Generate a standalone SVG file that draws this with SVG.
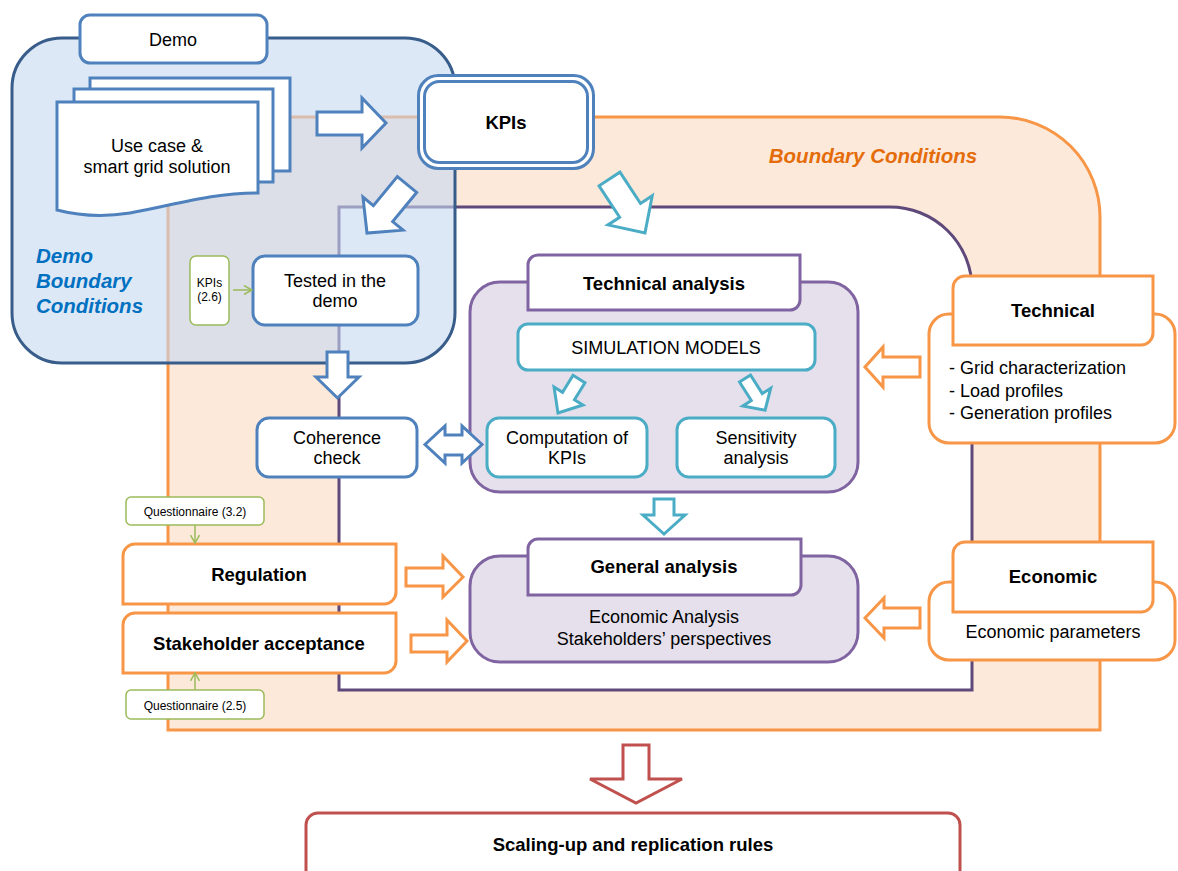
<svg xmlns="http://www.w3.org/2000/svg" width="1178" height="871" viewBox="0 0 1178 871">
<defs>
<style>
text{font-family:"Liberation Sans",Arial,Helvetica,sans-serif;fill:#000;text-anchor:middle;}
.t18{font-size:18px;}
.b18{font-size:18.5px;font-weight:bold;}
.s12{font-size:12px;}
.q{font-size:12px;}
.blue{fill:#fff;stroke:#4F81BD;stroke-width:3;}
.teal{fill:#fff;stroke:#4BACC6;stroke-width:3;}
.purp{fill:#fff;stroke:#8064A2;stroke-width:3;}
.purpbg{fill:#E5E0EC;stroke:#8064A2;stroke-width:3;}
.orng{fill:#fff;stroke:#F79646;stroke-width:3;}
.green{fill:#fff;stroke:#9BBB59;stroke-width:1.5;}
.red{fill:#fff;stroke:#C0504D;stroke-width:3;}
.gline{stroke:#9BBB59;stroke-width:1.5;fill:none;}
.dbc{font-size:20.5px;font-weight:bold;font-style:italic;fill:#0070C0;text-anchor:start;}
</style>
<marker id="chev" viewBox="0 0 10 10" refX="9" refY="5" markerWidth="10" markerHeight="10" markerUnits="userSpaceOnUse" orient="auto">
<path d="M1,0.5 L9,5 L1,9.5" fill="none" stroke="#9BBB59" stroke-width="1.5"/>
</marker>
</defs>

<g id="regions">
<path id="boundary-region" d="M168,730 L168,117 L1000,117 A100,100 0 0 1 1100,217 L1100,730 Z" fill="#FDE9D9" stroke="#F79646" stroke-width="3"/>
<path id="analysis-region" d="M339,690 L339,207 L890,207 A82,82 0 0 1 972,289 L972,690 Z" fill="#fff" stroke="#5F497A" stroke-width="3"/>
<rect id="demo-region" x="12" y="38" width="443" height="325" rx="50" fill="#C6D9F1" fill-opacity="0.6" stroke="#385D8A" stroke-width="3"/>
<text x="873" y="163" style="font-size:20.5px;font-weight:bold;font-style:italic;fill:#E46C0A;">Boundary Conditions</text>
<text class="dbc" x="36" y="263">Demo</text>
<text class="dbc" x="36" y="288">Boundary</text>
<text class="dbc" x="36" y="313">Conditions</text>
</g>

<g id="demo">
<rect class="blue" x="80" y="15" width="187" height="48" rx="10"/>
<text class="t18" x="173" y="46">Demo</text>
</g>

<g id="use-case">
<rect class="blue" x="90" y="78" width="200" height="93"/>
<rect class="blue" x="74" y="89" width="199" height="93"/>
<path class="blue" d="M57,102 H258 V193 C210,193 175,205 130,213 C105,217 80,216 57,210 Z"/>
<text class="t18" x="157" y="152">Use case &amp;</text>
<text class="t18" x="157" y="173">smart grid solution</text>
</g>

<g id="kpis">
<rect x="418.5" y="75.5" width="175" height="93" rx="20" fill="#fff" stroke="#4F81BD" stroke-width="3"/>
<rect x="424.5" y="81.5" width="163" height="81" rx="15" fill="#fff" stroke="#4F81BD" stroke-width="3"/>
<text class="b18" x="506" y="129">KPIs</text>
</g>

<g id="kpis-2-6">
<rect class="green" x="190" y="256" width="39" height="69" rx="6"/>
<text class="s12" x="209.5" y="287">KPIs</text>
<text class="s12" x="209.5" y="301">(2.6)</text>
</g>

<g id="tested">
<rect class="blue" x="253" y="256" width="165" height="69" rx="12"/>
<text class="t18" x="335" y="287">Tested in the</text>
<text class="t18" x="335" y="307">demo</text>
</g>

<g id="coherence">
<rect class="blue" x="257" y="418" width="160" height="59" rx="12"/>
<text class="t18" x="337" y="444">Coherence</text>
<text class="t18" x="337" y="464">check</text>
</g>

<g id="technical-analysis">
<rect class="purpbg" x="470" y="282" width="388" height="210" rx="30"/>
<path class="purp" d="M538,255 H800 V300 A10,10 0 0 1 790,310 H528 V265 A10,10 0 0 1 538,255 Z"/>
<text class="b18" x="664" y="290">Technical analysis</text>
</g>

<g id="simulation-models">
<rect class="teal" x="518" y="324" width="297" height="46" rx="10"/>
<text class="t18" x="666" y="354">SIMULATION MODELS</text>
</g>

<g id="computation">
<rect class="teal" x="487" y="418" width="160" height="59" rx="12"/>
<text class="t18" x="567" y="444">Computation of</text>
<text class="t18" x="567" y="464">KPIs</text>
</g>

<g id="sensitivity">
<rect class="teal" x="677" y="418" width="158" height="59" rx="12"/>
<text class="t18" x="756" y="444">Sensitivity</text>
<text class="t18" x="756" y="464">analysis</text>
</g>

<g id="general-analysis">
<rect class="purpbg" x="470" y="556" width="388" height="106" rx="30"/>
<path class="purp" d="M538,539 H801 V585 A10,10 0 0 1 791,595 H528 V549 A10,10 0 0 1 538,539 Z"/>
<text class="b18" x="664" y="573">General analysis</text>
<text class="t18" x="664" y="623">Economic Analysis</text>
<text class="t18" x="664" y="645">Stakeholders’ perspectives</text>
</g>

<g id="technical">
<rect class="orng" x="929" y="314" width="246" height="129" rx="20"/>
<path class="orng" d="M965,276 H1153 V333 A12,12 0 0 1 1141,345 H953 V288 A12,12 0 0 1 965,276 Z"/>
<text class="b18" x="1053" y="317">Technical</text>
<text class="t18" x="949" y="374" style="text-anchor:start">- Grid characterization</text>
<text class="t18" x="949" y="397" style="text-anchor:start">- Load profiles</text>
<text class="t18" x="949" y="419" style="text-anchor:start">- Generation profiles</text>
</g>

<g id="economic">
<rect class="orng" x="929" y="582" width="246" height="78" rx="20"/>
<path class="orng" d="M965,542 H1153 V600 A12,12 0 0 1 1141,612 H953 V554 A12,12 0 0 1 965,542 Z"/>
<text class="b18" x="1053" y="583">Economic</text>
<text class="t18" x="1053" y="638">Economic parameters</text>
</g>

<g id="questionnaire-3-2">
<rect class="green" x="126" y="497" width="138" height="28" rx="5"/>
<text class="q" x="195" y="516">Questionnaire (3.2)</text>
</g>

<g id="regulation">
<path class="orng" d="M135,544 H396 V592 A12,12 0 0 1 384,604 H123 V556 A12,12 0 0 1 135,544 Z"/>
<text class="b18" x="259" y="581">Regulation</text>
</g>

<g id="stakeholder-acceptance">
<path class="orng" d="M135,613 H396 V661 A12,12 0 0 1 384,673 H123 V625 A12,12 0 0 1 135,613 Z"/>
<text class="b18" x="259" y="650">Stakeholder acceptance</text>
</g>

<g id="questionnaire-2-5">
<rect class="green" x="126" y="690" width="138" height="29" rx="5"/>
<text class="q" x="195" y="710">Questionnaire (2.5)</text>
</g>

<g id="scaling">
<rect class="red" x="306" y="813" width="654" height="90" rx="12"/>
<text class="b18" x="633" y="851">Scaling-up and replication rules</text>
</g>

<g id="connectors">
<path class="blue" d="M317,112 H362 V98 L386,123 L362,148 V135 H317 Z"/>
<path class="blue" transform="translate(407,184.5) rotate(129.5)" d="M0,-12.5 H37.7 V-26 L62.9,0 L37.7,26 V12.5 H0 Z"/>
<path class="teal" transform="translate(609.5,179) rotate(56.7)" d="M0,-12.5 H37.5 V-26.5 L64.6,0 L37.5,26.5 V12.5 H0 Z"/>
<path class="blue" d="M327,352 H348 V377 H359 L337.5,398 L316,377 H327 Z"/>
<path class="blue" d="M425,444.5 L445,426 V435 H462 V426 L482,444.5 L462,463 V455 H445 V463 Z"/>
<path class="teal" transform="translate(579,379) rotate(121.7)" d="M0,-7 H20 V-17 L40,0 L20,17 V7 H0 Z"/>
<path class="teal" transform="translate(745,378.5) rotate(57.6)" d="M0,-6.5 H22 V-16.5 L37.5,0 L22,16.5 V6.5 H0 Z"/>
<path class="teal" d="M654,499 H674 V515 H685 L664,534 L643,515 H654 Z"/>
<path class="orng" d="M920,357 H883 V347 L865,367 L883,387 V377 H920 Z"/>
<path class="orng" d="M920,608 H884 V598 L865,618 L884,638 V628 H920 Z"/>
<path class="orng" d="M406,568 H443 V556 L463,577 L443,597 V586 H406 Z"/>
<path class="orng" d="M411,635 H447 V620 L467,641 L447,662 V652 H411 Z"/>
<path class="red" d="M623,745 H649 V779 H682 L636,803 L590,779 H623 Z"/>
<line class="gline" x1="233" y1="290" x2="252" y2="290" marker-end="url(#chev)"/>
<line class="gline" x1="195" y1="525" x2="195" y2="543" marker-end="url(#chev)"/>
<line class="gline" x1="195" y1="690" x2="195" y2="673" marker-end="url(#chev)"/>
</g>
</svg>
